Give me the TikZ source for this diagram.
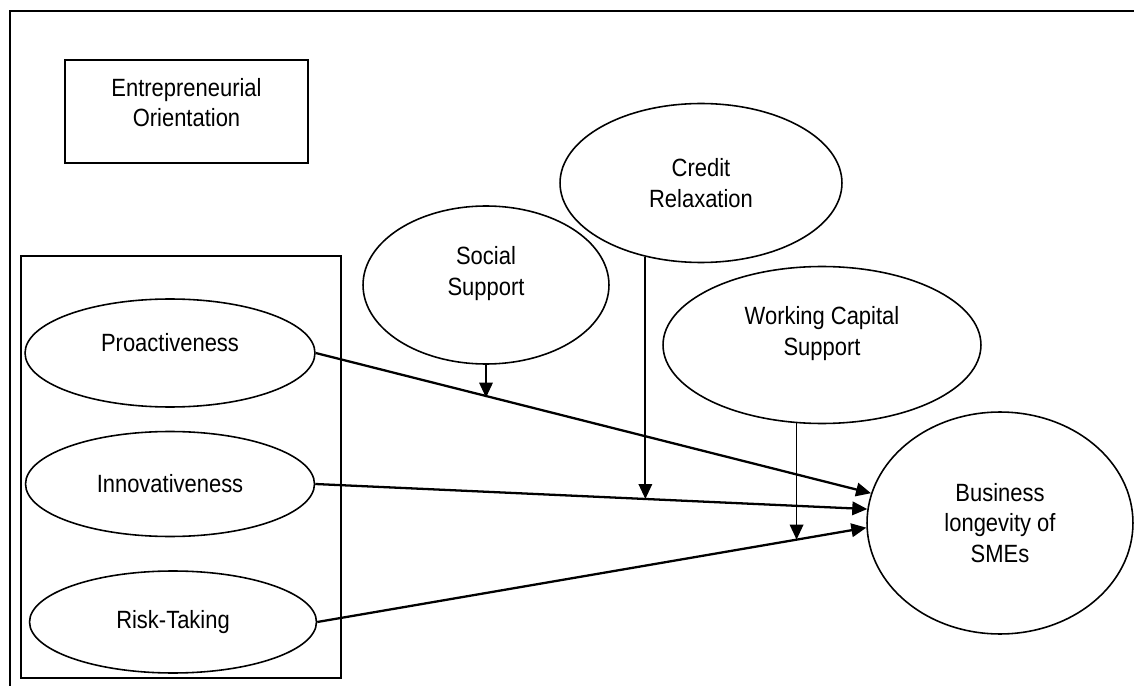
\documentclass[tikz,border=0pt]{standalone}
\usepackage{fontspec}
\setmainfont{Liberation Sans}[FakeStretch=0.88]
\usepackage{tikz}
\usetikzlibrary{shapes, arrows.meta, positioning}
\tikzstyle{every node}=[font=\fontsize{14.2}{17.5}\selectfont]
\tikzstyle{block}=[draw,rectangle,line width=0.7pt,align=center]
\tikzstyle{construct}=[draw,ellipse,line width=0.9pt,align=center,inner sep=0pt]
\tikzstyle{path}=[line width=1.3pt]
\tikzstyle{moderator}=[line width=1pt]

\begin{document}
\begin{tikzpicture}[x=0.02cm, y=-0.02cm, >={Triangle[length=3mm,width=2.7mm]}]
    \useasboundingbox (0,0) rectangle (1134,686);
    % frame
    \draw[line width=1.1pt] (1140,11) -- (10,11) -- (10,692);
    \node[block, minimum width=4.86cm, minimum height=2.06cm, text depth=0.36cm] (eo) at (186.5,111.5) {Entrepreneurial\\Orientation};
    \node[block, line width=1.1pt, minimum width=6.4cm, minimum height=8.44cm] (dims) at (181,467) {};
    \node[construct, minimum width=5.8cm, minimum height=2.16cm, text depth=0.43cm] (pro) at (170,353) {Proactiveness};
    \node[construct, minimum width=5.78cm, minimum height=2.1cm] (inn) at (170,484) {Innovativeness};
    \node[construct, minimum width=5.74cm, minimum height=2.04cm] (risk) at (173,622) {Risk-Taking};
    \node[construct, minimum width=4.92cm, minimum height=3.16cm, text depth=0.56cm] (soc) at (486,285) {Social\\Support};
    \node[construct, minimum width=5.64cm, minimum height=3.18cm] (cred) at (701,183) {Credit\\Relaxation};
    \node[construct, minimum width=6.36cm, minimum height=3.14cm, text depth=0.56cm] (wcs) at (822,345) {Working Capital\\Support};
    \node[construct, minimum width=5.32cm, minimum height=4.44cm] (biz) at (1000,523) {Business\\longevity of\\SMEs};
    % direct paths
    \draw[path,->] (pro.east) -- coordinate[pos=0.318] (m1) (biz.167);
    \draw[path,->] (inn.east) -- coordinate[pos=0.599] (m2) (biz.174);
    \draw[path,->] (risk.east) -- coordinate[pos=0.873] (m3) (biz.182);
    % moderators
    \draw[moderator,->] (soc.south) -- (soc.south |- m1);
    \draw[moderator,->] (cred.233) -- (cred.233 |- m2);
    \draw[moderator,->] (wcs.252) -- (wcs.252 |- m3);
\end{tikzpicture}
\end{document}
